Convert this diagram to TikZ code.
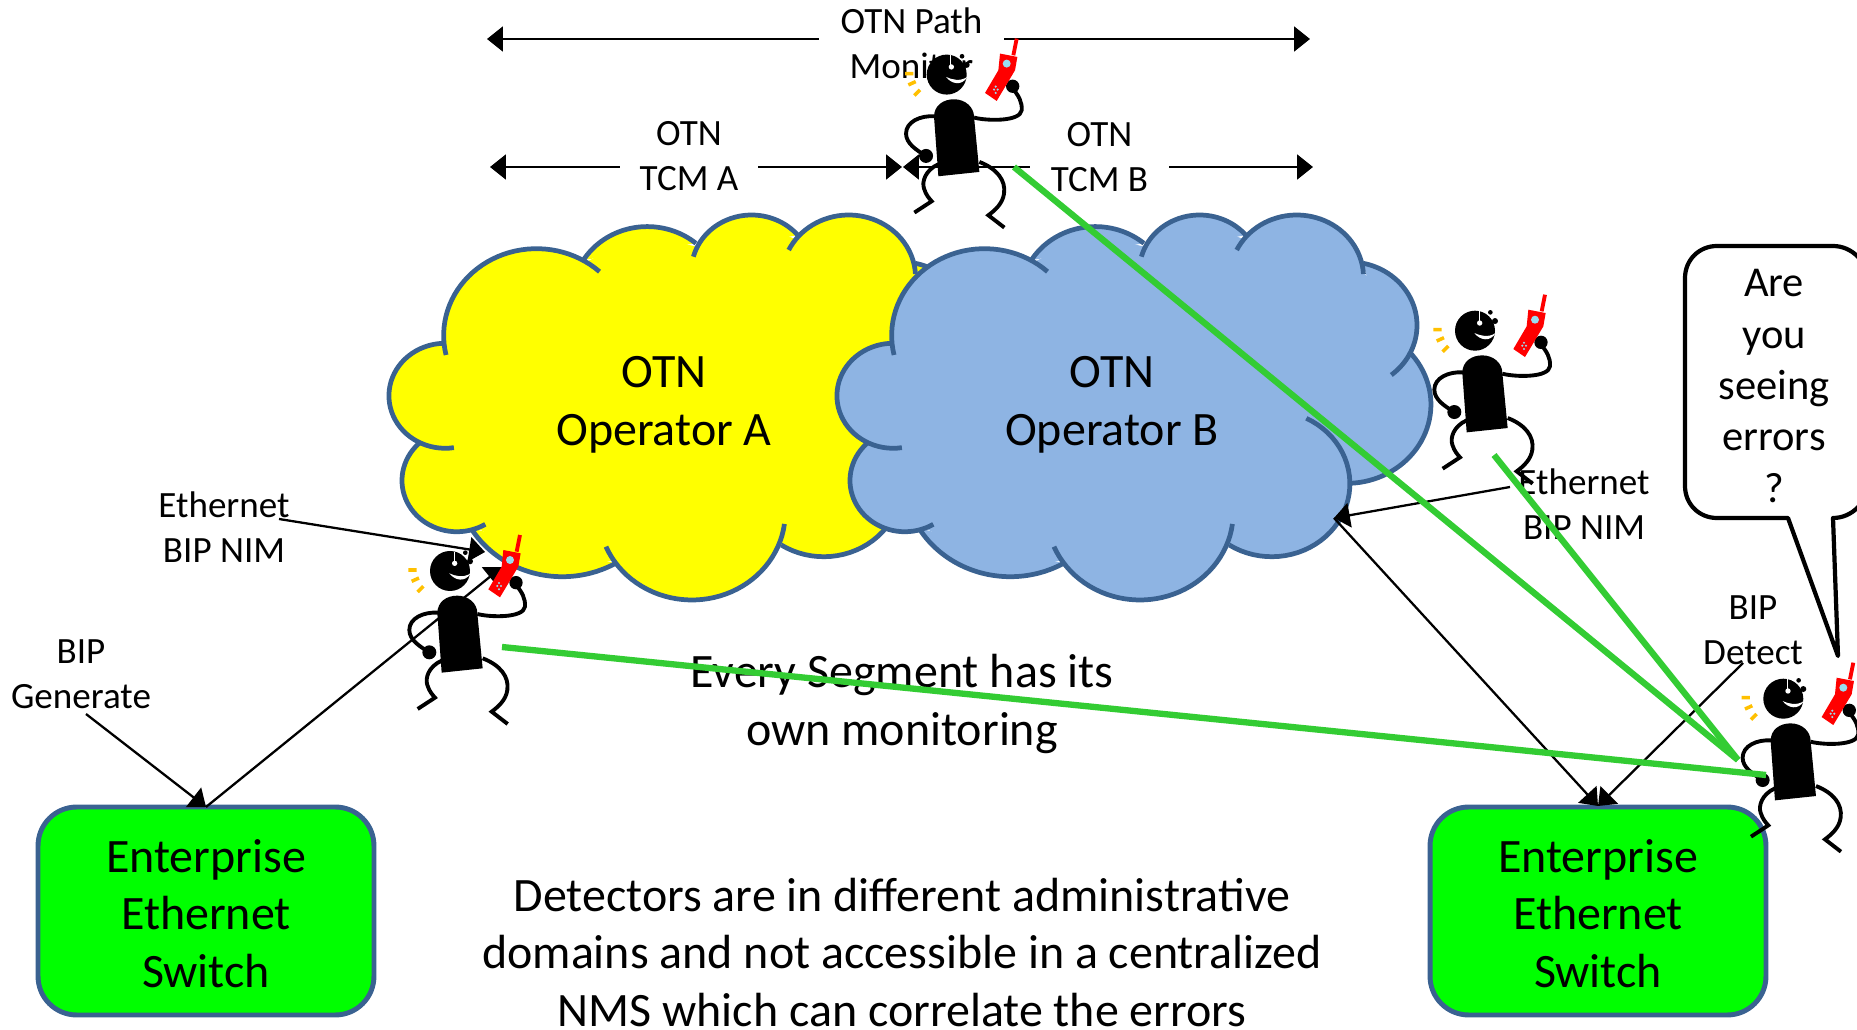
\documentclass[tikz,border=0pt]{standalone}
\usepackage{fontspec}
\setmainfont{Carlito}
\usetikzlibrary{arrows.meta}
\definecolor{cloudline}{HTML}{3A6291}
\definecolor{cloudblue}{HTML}{8EB4E3}
\definecolor{grn}{HTML}{33CC33}
\definecolor{sky}{HTML}{99DDF0}
\definecolor{amber}{HTML}{FFC000}
\definecolor{pureyellow}{HTML}{FFFF00}
\definecolor{puregreen}{HTML}{00FF00}
\newcommand\fsBig{\fontsize{27.3pt}{32.7pt}\selectfont}
\newcommand\fsMid{\fontsize{24.2pt}{29.2pt}\selectfont}
\newcommand\fsSmall{\fontsize{21.1pt}{25.6pt}\selectfont}
\tikzset{
  big/.style={font=\fsBig,align=center,inner sep=0pt},
  small/.style={font=\fsSmall,align=center,inner sep=0pt},
  mid/.style={font=\fsMid,align=center,inner sep=0pt},
  switchbox/.style={draw=cloudline,fill=puregreen,line width=2.8pt,rounded corners=22pt,minimum width=6.72cm,minimum height=4.16cm,inner sep=0pt},
  dim/.style={line width=1.5pt,-{Triangle[length=9pt,width=14pt]}},
  thin arrow/.style={line width=1.3pt,-{Triangle[length=9pt,width=14pt]}},
  green line/.style={grn,line width=3.6pt},
  limb/.style={line width=2.2pt},
}
% one cloud lobe: a circular arc through three points
\newcommand\lobe[7]{%
  \begingroup
  \pgfmathsetmacro\lax{#2/100}\pgfmathsetmacro\lay{#3/100}%
  \pgfmathsetmacro\lbx{#4/100}\pgfmathsetmacro\lby{#5/100}%
  \pgfmathsetmacro\lcx{#6/100}\pgfmathsetmacro\lcy{#7/100}%
  \pgfmathsetmacro\ldd{2*(\lax*(\lby-\lcy)+\lbx*(\lcy-\lay)+\lcx*(\lay-\lby))}%
  \pgfmathsetmacro\lqa{\lax*\lax+\lay*\lay}%
  \pgfmathsetmacro\lqb{\lbx*\lbx+\lby*\lby}%
  \pgfmathsetmacro\lqc{\lcx*\lcx+\lcy*\lcy}%
  \pgfmathsetmacro\lux{(\lqa*(\lby-\lcy)+\lqb*(\lcy-\lay)+\lqc*(\lay-\lby))/\ldd}%
  \pgfmathsetmacro\luy{(\lqa*(\lcx-\lbx)+\lqb*(\lax-\lcx)+\lqc*(\lbx-\lax))/\ldd}%
  \pgfmathsetmacro\lrr{veclen(\lax-\lux,\lay-\luy)}%
  \pgfmathsetmacro\lta{atan2(\lay-\luy,\lax-\lux)}%
  \pgfmathsetmacro\ltb{atan2(\lby-\luy,\lbx-\lux)}%
  \pgfmathsetmacro\ltc{atan2(\lcy-\luy,\lcx-\lux)}%
  \pgfmathsetmacro\ltb{\ltb<\lta ? \ltb+360 : \ltb}%
  \pgfmathsetmacro\ltc{\ltc<\lta ? \ltc+360 : \ltc}%
  \pgfmathsetmacro\lts{\ltb<\ltc ? \lta : \ltc}%
  \pgfmathsetmacro\lte{\ltb<\ltc ? \ltc : \lta+360}%
  \path[#1,line join=round] plot[domain=\lts:\lte,samples=40] ({100*\lux+100*\lrr*cos(\x)},{100*\luy+100*\lrr*sin(\x)});
  \endgroup}
\newcommand\lobes[1]{%
  \lobe{#1}{185}{465}{310}{180}{615}{215}%
  \lobe{#1}{570}{180}{740}{80}{885}{130}%
  \lobe{#1}{878}{170}{1040}{45}{1170}{105}%
  \lobe{#1}{1145}{150}{1310}{45}{1500}{222}%
  \lobe{#1}{1500}{190}{1650}{370}{1578}{525}%
  \lobe{#1}{1628}{455}{1689}{620}{1462}{850}%
  \lobe{#1}{1340}{655}{1462}{850}{1124}{1035}%
  \lobe{#1}{1133}{972}{870}{1200}{633}{1040}%
  \lobe{#1}{660}{1090}{500}{1130}{255}{985}%
  \lobe{#1}{295}{973}{62}{830}{115}{725}%
  \lobe{#1}{207}{743}{25}{585}{175}{430}%
}
\newcommand\cloud[2]{%
  \begin{scope}[shift={(#1,200)},x=0.007143cm,y=-0.006667cm]
    \fill[#2] (185,420)--(430,170)--(570,190)--(740,100)--(885,140)--(1040,65)--(1170,120)--(1310,65)--(1480,200)--(1630,340)--(1620,455)--(1670,620)--(1462,850)--(1400,950)--(1124,1035)--(870,1180)--(660,1080)--(500,1110)--(255,975)--(140,940)--(115,725)--(45,585)--(175,440)--cycle;
    \lobes{fill=#2}
    \lobes{draw=cloudline,line width=2.7pt}
  \end{scope}}
\newcommand\person[2]{%
  \begin{scope}[shift={(#1,#2)},x=0.006667cm,y=-0.006667cm]
    \fill (142,310) .. controls (142,275) and (170,257) .. (202,257) .. controls (235,257) and (262,280) .. (262,310) -- (278,475) -- (155,488) -- cycle;
    \draw[limb] (145,308) .. controls (100,305) and (58,325) .. (58,360) .. controls (58,390) and (90,410) .. (118,427);
    \fill (118,427) circle[radius=21];
    \draw[limb] (262,312) .. controls (300,322) and (400,325) .. (405,290) .. controls (407,265) and (395,245) .. (378,225);
    \draw[limb] (155,452) .. controls (115,470) and (105,505) .. (112,525) .. controls (118,545) and (128,555) .. (135,563) -- (83,597);
    \draw[limb] (278,445) .. controls (330,465) and (358,500) .. (352,540) .. controls (348,570) and (325,590) .. (305,605) -- (353,642);
    \fill (180,183) circle[radius=60];
    \fill (240,154) circle[radius=9];
    \fill (226,128) circle[radius=7];
    \draw[white,line width=0.3pt] (192,125) -- (192,155);
    \fill[white] (194,160) circle[radius=8];
    \fill[white] (178,190) .. controls (195,198) and (220,205) .. (242,190) .. controls (225,218) and (195,212) .. (178,190) -- cycle;
    \fill (378,218) circle[radius=20];
    \fill[red] (340,120) -- (392,130) -- (385,170) -- (330,262) -- (295,238) -- (335,170) -- cycle;
    \draw[red,line width=2.2pt] (380,125) -- (390,75);
    \fill[sky] (360,150) circle[radius=12];
    \fill[sky] (322,228) circle[radius=3.5] (333,228) circle[radius=3.5] (327,219) circle[radius=3.5] (327,238) circle[radius=3.5];
    \draw[amber,line width=2pt] (55,180) -- (80,180) (65,214) -- (87,204) (83,246) -- (100,229);
  \end{scope}}
\begin{document}
\begin{tikzpicture}[x=0.02cm,y=-0.02cm]
  \clip (0,0) rectangle (1857,1030);
  \useasboundingbox (0,0) rectangle (1857,1030);

  \cloud{380}{pureyellow}
  \cloud{828}{cloudblue}

  \node[big] (opa) at (664,405) {OTN\\Operator A};
  \node[big] (opb) at (1112,405) {OTN\\Operator B};

  \node[switchbox] (swl) at (206,911) {};
  \node[switchbox] (swr) at (1598,911) {};
  \node[big] (swlx) at (206,913.5) {Enterprise\\Ethernet\\Switch};
  \node[big] (swrx) at (1598,913.5) {Enterprise\\Ethernet\\Switch};

  \node[small,minimum width=3.7cm] (pathlbl) at (911.5,43) {OTN Path\\Monitor};
  \node[small,minimum width=2.76cm] (tcma) at (689,156) {OTN\\TCM A};
  \node[small,minimum width=2.78cm] (tcmb) at (1099.5,157) {OTN\\TCM B};
  \coordinate (pl) at (487,39);
  \coordinate (pr) at (1310,39);
  \coordinate (al) at (490,167);
  \coordinate (ar) at (902,167);
  \coordinate (bl) at (903,167);
  \coordinate (br) at (1313,167);
  \draw[dim] (pathlbl.west |- pl) -- (pl);
  \draw[dim] (pathlbl.east |- pr) -- (pr);
  \draw[dim] (tcma.west |- al) -- (al);
  \draw[dim] (tcma.east |- ar) -- (ar);
  \draw[dim] (tcmb.west |- bl) -- (bl);
  \draw[dim] (tcmb.east |- br) -- (br);

  \node[small] (nimL) at (224,527) {Ethernet\\BIP NIM};
  \node[small] (nimR) at (1584,504) {Ethernet\\BIP NIM};
  \node[small] (gen) at (81,674) {BIP\\Generate};
  \node[small] (det) at (1753,630) {BIP\\Detect};

  \coordinate (nimLs) at (279,519);
  \coordinate (nimLt) at (485,552);
  \coordinate (nimRs) at (1510,487);
  \coordinate (cloudhit) at (1334,518);
  \coordinate (phone) at (502,567);
  \coordinate (genS) at (86,714);
  \coordinate (detS) at (1743,663);
  \coordinate (swlt) at (206,807);
  \coordinate (swrt) at (1598,806);
  \draw[thin arrow] (nimLs) -- (nimLt);
  \draw[thin arrow] (nimRs) -- (cloudhit);
  \draw[thin arrow] (genS) -- (swlt);
  \draw[thin arrow] (detS) -- (swrt);
  \draw[thin arrow] (swlt) -- (phone);
  \draw[thin arrow] (cloudhit) -- (swrt);

  \node[big] (seg) at (902,704) {Every Segment has its\\own monitoring};
  \node[big] (det2) at (902,952.5) {Detectors are in different administrative\\domains and not accessible in a centralized\\NMS which can correlate the errors};

  \draw[line width=2.4pt,fill=white,line join=round] (1788,518) -- (1717,518) .. controls (1699,518) and (1685,504) .. (1685,486) -- (1685,278) .. controls (1685,260) and (1699,246) .. (1717,246) -- (1833,246) .. controls (1852,246) and (1868,262) .. (1868,282) -- (1868,482) .. controls (1868,502) and (1852,518) .. (1833,518) -- (1838,656) -- cycle;
  \node[mid] (ask) at (1774,386) {Are\\you\\seeing\\errors\\?};

  \person{886.7}{13.6}
  \person{390}{510}
  \person{1415}{269.7}
  \person{1723.3}{637.7}

  \coordinate (ga) at (502,647);
  \coordinate (gb) at (1766,775);
  \coordinate (gc) at (1014,167);
  \coordinate (gd) at (1738,760);
  \coordinate (ge) at (1494,455);
  \draw[green line] (ga) -- (gb);
  \draw[green line] (gc) -- (gd);
  \draw[green line] (ge) -- (gd);
\end{tikzpicture}
\end{document}
